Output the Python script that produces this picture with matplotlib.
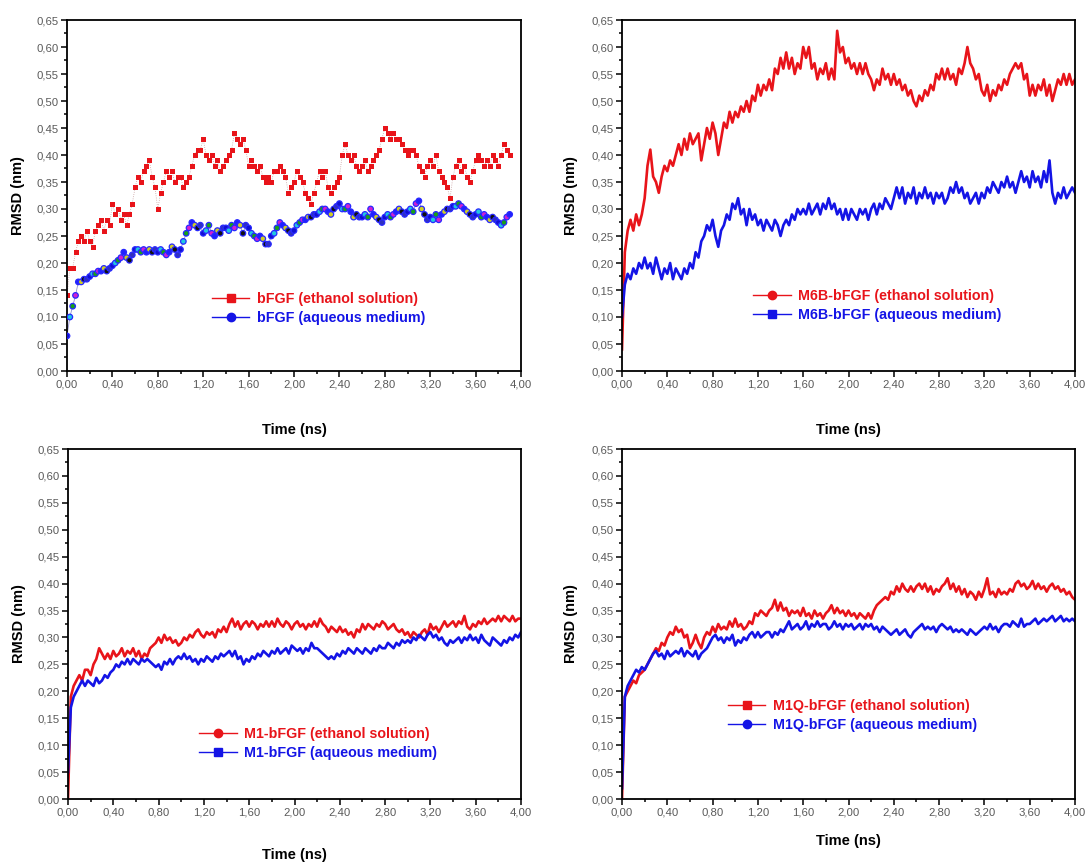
import numpy as np
import matplotlib
matplotlib.use("Agg")
import matplotlib.pyplot as plt
from matplotlib.ticker import MultipleLocator, FuncFormatter
from matplotlib.lines import Line2D

plt.rcParams['font.family'] = ['Liberation Sans', 'DejaVu Sans']

DT = 0.025  # ns between samples

# ---------------- data (RMSD, nm) ----------------
bfgf_ethanol = [
    0.14, 0.19, 0.19, 0.22, 0.24, 0.25, 0.24, 0.26,
    0.24, 0.23, 0.26, 0.27, 0.28, 0.26, 0.28, 0.27,
    0.31, 0.29, 0.30, 0.28, 0.29, 0.27, 0.29, 0.31,
    0.34, 0.36, 0.35, 0.37, 0.38, 0.39, 0.36, 0.34,
    0.30, 0.33, 0.35, 0.37, 0.36, 0.37, 0.35, 0.36,
    0.36, 0.34, 0.35, 0.36, 0.38, 0.40, 0.41, 0.41,
    0.43, 0.40, 0.39, 0.40, 0.38, 0.39, 0.37, 0.38,
    0.39, 0.40, 0.41, 0.44, 0.43, 0.42, 0.43, 0.41,
    0.38, 0.39, 0.38, 0.37, 0.38, 0.36, 0.35, 0.36,
    0.35, 0.37, 0.37, 0.38, 0.37, 0.36, 0.33, 0.34,
    0.35, 0.37, 0.36, 0.35, 0.33, 0.32, 0.31, 0.33,
    0.35, 0.37, 0.36, 0.37, 0.34, 0.33, 0.34, 0.35,
    0.36, 0.40, 0.42, 0.40, 0.39, 0.40, 0.38, 0.37,
    0.38, 0.39, 0.37, 0.38, 0.39, 0.40, 0.41, 0.43,
    0.45, 0.44, 0.43, 0.44, 0.43, 0.43, 0.42, 0.41,
    0.40, 0.41, 0.41, 0.40, 0.38, 0.37, 0.36, 0.38,
    0.39, 0.38, 0.40, 0.37, 0.36, 0.35, 0.34, 0.32,
    0.36, 0.38, 0.39, 0.37, 0.38, 0.36, 0.35, 0.37,
    0.39, 0.40, 0.39, 0.38, 0.39, 0.38, 0.40, 0.39,
    0.38, 0.40, 0.42, 0.41, 0.40,
]
bfgf_aqueous = [
    0.065, 0.10, 0.12, 0.14, 0.165, 0.165, 0.17, 0.17,
    0.175, 0.18, 0.18, 0.185, 0.185, 0.19, 0.185, 0.19,
    0.195, 0.20, 0.205, 0.21, 0.22, 0.21, 0.205, 0.215,
    0.225, 0.225, 0.22, 0.225, 0.22, 0.225, 0.22, 0.225,
    0.22, 0.225, 0.22, 0.215, 0.22, 0.23, 0.225, 0.215,
    0.225, 0.24, 0.255, 0.265, 0.275, 0.27, 0.265, 0.27,
    0.255, 0.26, 0.27, 0.255, 0.25, 0.26, 0.255, 0.265,
    0.265, 0.26, 0.27, 0.265, 0.275, 0.27, 0.255, 0.27,
    0.265, 0.255, 0.25, 0.245, 0.25, 0.245, 0.235, 0.235,
    0.25, 0.255, 0.265, 0.275, 0.27, 0.265, 0.26, 0.255,
    0.26, 0.27, 0.275, 0.28, 0.28, 0.285, 0.285, 0.29,
    0.29, 0.295, 0.30, 0.30, 0.295, 0.29, 0.30, 0.305,
    0.31, 0.30, 0.30, 0.305, 0.295, 0.285, 0.29, 0.285,
    0.285, 0.29, 0.285, 0.30, 0.29, 0.285, 0.28, 0.275,
    0.285, 0.29, 0.285, 0.29, 0.295, 0.30, 0.295, 0.29,
    0.295, 0.30, 0.295, 0.31, 0.315, 0.30, 0.29, 0.28,
    0.285, 0.28, 0.29, 0.28, 0.29, 0.295, 0.30, 0.30,
    0.305, 0.305, 0.31, 0.305, 0.30, 0.295, 0.29, 0.285,
    0.29, 0.295, 0.285, 0.29, 0.285, 0.28, 0.285, 0.28,
    0.275, 0.27, 0.275, 0.285, 0.29,
]
m6b_ethanol = [
    0.04, 0.22, 0.26, 0.28, 0.26, 0.29, 0.27, 0.29,
    0.32, 0.38, 0.41, 0.36, 0.35, 0.33, 0.36, 0.38,
    0.37, 0.39, 0.38, 0.40, 0.42, 0.40, 0.43, 0.41,
    0.44, 0.42, 0.43, 0.44, 0.39, 0.42, 0.45, 0.43,
    0.46, 0.44, 0.40, 0.43, 0.46, 0.45, 0.48, 0.46,
    0.48, 0.47, 0.49, 0.48, 0.50, 0.48, 0.51, 0.50,
    0.53, 0.51, 0.53, 0.52, 0.54, 0.52, 0.56, 0.55,
    0.58, 0.56, 0.59, 0.56, 0.58, 0.55, 0.57, 0.56,
    0.60, 0.58, 0.60, 0.56, 0.57, 0.54, 0.56, 0.55,
    0.57, 0.54, 0.56, 0.54, 0.63, 0.59, 0.60, 0.57,
    0.58, 0.56, 0.57, 0.55, 0.57, 0.55, 0.57, 0.55,
    0.54, 0.52, 0.54, 0.53, 0.56, 0.54, 0.55, 0.53,
    0.55, 0.53, 0.54, 0.52, 0.53, 0.51, 0.52, 0.50,
    0.49, 0.51, 0.50, 0.52, 0.51, 0.53, 0.52, 0.55,
    0.54, 0.56, 0.54, 0.56, 0.54, 0.55, 0.53, 0.56,
    0.55, 0.57, 0.60, 0.57, 0.56, 0.54, 0.55, 0.52,
    0.51, 0.53, 0.50, 0.52, 0.51, 0.53, 0.52, 0.54,
    0.53, 0.55, 0.56, 0.57, 0.56, 0.57, 0.54, 0.55,
    0.51, 0.53, 0.51, 0.53, 0.52, 0.54, 0.51, 0.53,
    0.50, 0.52, 0.54, 0.53, 0.55, 0.53, 0.55, 0.53,
    0.54,
]
m6b_aqueous = [
    0.10, 0.16, 0.18, 0.17, 0.19, 0.18, 0.20, 0.19,
    0.21, 0.19, 0.20, 0.18, 0.21, 0.19, 0.17, 0.19,
    0.18, 0.20, 0.17, 0.19, 0.18, 0.17, 0.19, 0.18,
    0.20, 0.19, 0.22, 0.21, 0.24, 0.25, 0.27, 0.26,
    0.28, 0.25, 0.23, 0.26, 0.27, 0.29, 0.28, 0.31,
    0.30, 0.32, 0.29, 0.30, 0.27, 0.30, 0.28, 0.29,
    0.27, 0.28, 0.26, 0.28, 0.27, 0.26, 0.28, 0.27,
    0.25, 0.27, 0.28, 0.27, 0.29, 0.28, 0.30, 0.29,
    0.30, 0.29, 0.31, 0.29, 0.30, 0.31, 0.29, 0.31,
    0.30, 0.32, 0.30, 0.31, 0.29, 0.30, 0.28, 0.30,
    0.28, 0.30, 0.29, 0.28, 0.30, 0.29, 0.30, 0.28,
    0.30, 0.31, 0.29, 0.31, 0.30, 0.32, 0.31, 0.30,
    0.32, 0.34, 0.32, 0.34, 0.31, 0.33, 0.32, 0.34,
    0.31, 0.33, 0.32, 0.34, 0.32, 0.33, 0.31, 0.33,
    0.32, 0.33, 0.31, 0.32, 0.34, 0.33, 0.35, 0.33,
    0.34, 0.32, 0.33, 0.31, 0.32, 0.33, 0.31, 0.33,
    0.32, 0.34, 0.33, 0.35, 0.34, 0.33, 0.35, 0.34,
    0.36, 0.34, 0.35, 0.33, 0.35, 0.37, 0.35, 0.36,
    0.34, 0.37, 0.35, 0.36, 0.34, 0.37, 0.35, 0.39,
    0.33, 0.31, 0.33, 0.32, 0.34, 0.32, 0.33, 0.34,
    0.33,
]
m1_ethanol = [
    0.00, 0.19, 0.21, 0.22, 0.23, 0.22, 0.24, 0.24,
    0.23, 0.25, 0.26, 0.28, 0.27, 0.26, 0.27, 0.26,
    0.275, 0.265, 0.27, 0.28, 0.265, 0.275, 0.27, 0.28,
    0.265, 0.275, 0.26, 0.27, 0.265, 0.28, 0.285, 0.29,
    0.30, 0.29, 0.305, 0.295, 0.30, 0.29, 0.295, 0.285,
    0.29, 0.30, 0.295, 0.305, 0.30, 0.31, 0.315, 0.305,
    0.30, 0.31, 0.305, 0.31, 0.30, 0.315, 0.31, 0.32,
    0.31, 0.325, 0.335, 0.32, 0.33, 0.315, 0.325, 0.33,
    0.32, 0.33, 0.325, 0.315, 0.325, 0.32, 0.33, 0.32,
    0.33, 0.32, 0.335, 0.325, 0.32, 0.33, 0.325, 0.315,
    0.325, 0.33, 0.32, 0.325, 0.315, 0.325, 0.32, 0.33,
    0.32, 0.335, 0.325, 0.32, 0.31, 0.32, 0.315, 0.31,
    0.32, 0.31, 0.315, 0.305, 0.31, 0.30, 0.315, 0.31,
    0.325, 0.315, 0.325, 0.32, 0.315, 0.325, 0.32, 0.33,
    0.325, 0.315, 0.32, 0.325, 0.315, 0.31, 0.315, 0.305,
    0.31, 0.30, 0.31, 0.305, 0.30, 0.31, 0.315, 0.305,
    0.325, 0.315, 0.32, 0.31, 0.32, 0.33, 0.32, 0.325,
    0.33, 0.32, 0.33, 0.325, 0.34, 0.32, 0.315, 0.325,
    0.32, 0.33, 0.325, 0.335, 0.325, 0.33, 0.335, 0.33,
    0.34, 0.33, 0.34, 0.335, 0.33, 0.34, 0.33, 0.335,
    0.335,
]
m1_aqueous = [
    0.05, 0.17, 0.19, 0.20, 0.21, 0.22, 0.21, 0.22,
    0.215, 0.21, 0.225, 0.215, 0.22, 0.23, 0.225, 0.235,
    0.24, 0.25, 0.245, 0.255, 0.25, 0.26, 0.25, 0.26,
    0.255, 0.25, 0.26, 0.255, 0.26, 0.255, 0.25, 0.245,
    0.25, 0.24, 0.255, 0.25, 0.26, 0.25, 0.26, 0.265,
    0.26, 0.27, 0.26, 0.265, 0.255, 0.26, 0.25, 0.26,
    0.255, 0.265, 0.26, 0.255, 0.265, 0.26, 0.27, 0.265,
    0.27, 0.275, 0.265, 0.275, 0.26, 0.265, 0.25, 0.26,
    0.255, 0.265, 0.26, 0.27, 0.265, 0.275, 0.27, 0.265,
    0.275, 0.27, 0.28, 0.27, 0.275, 0.28, 0.27, 0.285,
    0.28, 0.275, 0.28, 0.27, 0.28, 0.275, 0.29, 0.28,
    0.28, 0.275, 0.27, 0.265, 0.26, 0.265, 0.26, 0.27,
    0.265, 0.275, 0.27, 0.28, 0.275, 0.27, 0.28, 0.275,
    0.27, 0.28, 0.275, 0.27, 0.28, 0.275, 0.285, 0.28,
    0.28, 0.29, 0.285, 0.28, 0.29, 0.285, 0.295, 0.29,
    0.295, 0.29, 0.30, 0.295, 0.305, 0.30, 0.295, 0.305,
    0.31, 0.30, 0.305, 0.295, 0.30, 0.29, 0.285, 0.295,
    0.29, 0.295, 0.30, 0.29, 0.30, 0.295, 0.305, 0.295,
    0.30, 0.29, 0.305, 0.295, 0.29, 0.285, 0.30, 0.295,
    0.29, 0.285, 0.295, 0.29, 0.30, 0.295, 0.305, 0.30,
    0.31,
]
m1q_ethanol = [
    0.00, 0.19, 0.20, 0.21, 0.22, 0.215, 0.23, 0.235,
    0.24, 0.25, 0.26, 0.27, 0.28, 0.275, 0.29, 0.285,
    0.30, 0.31, 0.305, 0.32, 0.31, 0.315, 0.30, 0.305,
    0.28, 0.29, 0.305, 0.29, 0.28, 0.30, 0.31, 0.305,
    0.32, 0.31, 0.325, 0.315, 0.32, 0.315, 0.33, 0.32,
    0.335, 0.32, 0.325, 0.315, 0.32, 0.33, 0.325, 0.345,
    0.34, 0.35, 0.345, 0.34, 0.35, 0.355, 0.37, 0.35,
    0.365, 0.35, 0.355, 0.34, 0.35, 0.345, 0.35, 0.34,
    0.355, 0.34, 0.345, 0.335, 0.35, 0.34, 0.345, 0.335,
    0.345, 0.35, 0.36, 0.345, 0.355, 0.345, 0.35, 0.34,
    0.35, 0.34, 0.345, 0.335, 0.345, 0.34, 0.335, 0.345,
    0.335, 0.35, 0.36, 0.365, 0.37, 0.375, 0.37, 0.385,
    0.38, 0.395, 0.385, 0.40, 0.39, 0.385, 0.395, 0.385,
    0.395, 0.40, 0.39, 0.40, 0.385, 0.395, 0.38, 0.39,
    0.385, 0.395, 0.40, 0.41, 0.39, 0.40, 0.385, 0.395,
    0.38, 0.39, 0.375, 0.385, 0.38, 0.37, 0.385, 0.375,
    0.39, 0.41, 0.38, 0.385, 0.375, 0.39, 0.38, 0.385,
    0.38, 0.39, 0.385, 0.40, 0.405, 0.395, 0.40, 0.39,
    0.395, 0.405, 0.39, 0.40, 0.39, 0.395, 0.385, 0.395,
    0.40, 0.39, 0.395, 0.385, 0.39, 0.38, 0.385, 0.375,
    0.37,
]
m1q_aqueous = [
    0.02, 0.19, 0.21, 0.22, 0.23, 0.24, 0.235, 0.245,
    0.24, 0.25, 0.26, 0.27, 0.275, 0.265, 0.27, 0.26,
    0.275, 0.265, 0.27, 0.275, 0.27, 0.28, 0.265, 0.275,
    0.27, 0.265, 0.275, 0.26, 0.27, 0.275, 0.28, 0.29,
    0.30, 0.305, 0.295, 0.30, 0.29, 0.30, 0.295, 0.305,
    0.285, 0.295, 0.29, 0.30, 0.295, 0.305, 0.31, 0.30,
    0.31, 0.30, 0.305, 0.31, 0.31, 0.30, 0.31, 0.305,
    0.315, 0.31, 0.32, 0.33, 0.315, 0.32, 0.325, 0.315,
    0.32, 0.33, 0.315, 0.325, 0.32, 0.33, 0.32, 0.325,
    0.325, 0.315, 0.32, 0.33, 0.32, 0.325, 0.315, 0.325,
    0.32, 0.325, 0.315, 0.32, 0.325, 0.315, 0.325, 0.32,
    0.325, 0.315, 0.32, 0.31, 0.32, 0.315, 0.31, 0.305,
    0.31, 0.315, 0.305, 0.31, 0.315, 0.305, 0.30, 0.31,
    0.315, 0.32, 0.325, 0.315, 0.32, 0.315, 0.32, 0.31,
    0.32, 0.325, 0.32, 0.315, 0.32, 0.31, 0.315, 0.31,
    0.315, 0.31, 0.305, 0.315, 0.31, 0.305, 0.31, 0.315,
    0.32, 0.315, 0.325, 0.315, 0.32, 0.31, 0.32, 0.325,
    0.325, 0.32, 0.33, 0.325, 0.32, 0.335, 0.32, 0.325,
    0.325, 0.33, 0.335, 0.325, 0.33, 0.335, 0.33, 0.335,
    0.34, 0.33, 0.335, 0.34, 0.33, 0.335, 0.33, 0.335,
    0.33,
]

labels_tl = ['bFGF (ethanol solution)', 'bFGF (aqueous medium)']
labels_tr = ['M6B-bFGF (ethanol solution)', 'M6B-bFGF (aqueous medium)']
labels_bl = ['M1-bFGF (ethanol solution)', 'M1-bFGF (aqueous medium)']
labels_br = ['M1Q-bFGF (ethanol solution)', 'M1Q-bFGF (aqueous medium)']

RED = '#e8141a'
BLUE = '#1414e6'
W, H = 1088, 863

fig = plt.figure(figsize=(W / 100, H / 100), dpi=100)


def make_ax(l, r, t, b):
    return fig.add_axes([l / W, 1 - b / H, (r - l) / W, (b - t) / H])


def style(ax, xlab_off, ylab_off):
    ax.set_xlim(0, 4)
    ax.set_ylim(0, 0.65)
    ax.xaxis.set_major_locator(MultipleLocator(0.4))
    ax.xaxis.set_minor_locator(MultipleLocator(0.2))
    ax.yaxis.set_major_locator(MultipleLocator(0.05))
    ax.yaxis.set_minor_locator(MultipleLocator(0.025))
    fmt = FuncFormatter(lambda v, p: f"{v:.2f}".replace('.', ','))
    ax.xaxis.set_major_formatter(fmt)
    ax.yaxis.set_major_formatter(fmt)
    ax.tick_params(which='both', direction='out', top=False, right=False,
                   labelsize=8.2, labelcolor='#5a5a5a', pad=2, width=1.1)
    ax.tick_params(which='major', length=4)
    ax.tick_params(which='minor', length=2.5)
    for s in ax.spines.values():
        s.set_linewidth(1.3)
        s.set_color('black')
    ax.set_xlabel('Time (ns)', fontsize=10.5, fontweight='bold')
    ax.set_ylabel('RMSD (nm)', fontsize=10.5, fontweight='bold')
    ax.xaxis.set_label_coords(0.5, xlab_off)
    ax.yaxis.set_label_coords(ylab_off, 0.5)


def add_legend(ax, labels, markers, anchor):
    handles = [Line2D([], [], color=RED, lw=1.0, marker=markers[0], markersize=6),
               Line2D([], [], color=BLUE, lw=1.0, marker=markers[1], markersize=6)]
    ax.legend(handles, labels, loc='upper left', bbox_to_anchor=anchor,
              frameon=False, prop=dict(weight='bold', size=10.3),
              labelcolor='linecolor', handlelength=2.6, handletextpad=0.55,
              labelspacing=0.35, borderpad=0, borderaxespad=0)


# top-left: markers
ax1 = make_ax(67, 521, 20, 371)
t1 = DT * np.arange(len(bfgf_ethanol))
ax1.plot(t1, bfgf_ethanol, color='#c8a0a0', lw=0.6, ls=':', zorder=1)
ax1.plot(t1, bfgf_ethanol, ls='none', marker='s', markersize=3.6, color=RED,
         markeredgewidth=0, zorder=2)
t1b = DT * np.arange(len(bfgf_aqueous))
face_cycle = ['#1010d0', '#20c8e0', '#18a018', '#d020d0', '#2020ff',
              '#d0d020', '#101010', '#3030c0']
faces = [face_cycle[i % len(face_cycle)] for i in range(len(bfgf_aqueous))]
ax1.plot(t1b, bfgf_aqueous, color='#9090d0', lw=0.6, zorder=1)
ax1.scatter(t1b, bfgf_aqueous, s=16, c=faces, edgecolors='#2828ff',
            linewidths=0.9, zorder=3)
style(ax1, -0.149, -0.0925)
add_legend(ax1, labels_tl, ['s', 'o'], (0.32, 0.225))

# top-right
ax2 = make_ax(622, 1075, 20, 371)
ax2.plot(DT * np.arange(len(m6b_ethanol)), m6b_ethanol, color=RED, lw=1.9)
ax2.plot(DT * np.arange(len(m6b_aqueous)), m6b_aqueous, color=BLUE, lw=1.9)
style(ax2, -0.149, -0.097)
add_legend(ax2, labels_tr, ['o', 's'], (0.29, 0.234))

# bottom-left
ax3 = make_ax(68, 521, 449, 799)
ax3.plot(DT * np.arange(len(m1_ethanol)), m1_ethanol, color=RED, lw=1.9)
ax3.plot(DT * np.arange(len(m1_aqueous)), m1_aqueous, color=BLUE, lw=1.9)
style(ax3, -0.139, -0.0925)
add_legend(ax3, labels_bl, ['o', 's'], (0.29, 0.205))

# bottom-right
ax4 = make_ax(622, 1075, 449, 799)
ax4.plot(DT * np.arange(len(m1q_ethanol)), m1q_ethanol, color=RED, lw=1.9)
ax4.plot(DT * np.arange(len(m1q_aqueous)), m1q_aqueous, color=BLUE, lw=1.9)
style(ax4, -0.10, -0.097)
add_legend(ax4, labels_br, ['s', 'o'], (0.234, 0.285))

fig.savefig('out.png', dpi=100)
